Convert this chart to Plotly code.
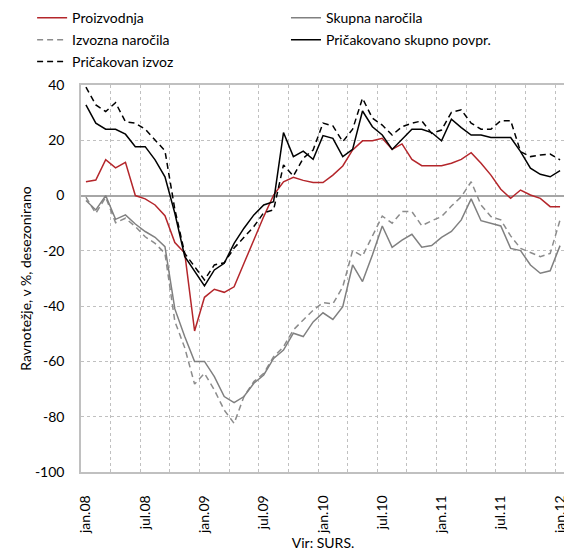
import plotly.graph_objects as go

months = list(range(49))
tick_idx = [0, 6, 12, 18, 24, 30, 36, 42, 48]
tick_labels = ["jan.08", "jul.08", "jan.09", "jul.09", "jan.10", "jul.10", "jan.11", "jul.11", "jan.12"]
y_ticks = [-100, -80, -60, -40, -20, 0, 20, 40]
y_tick_labels = ["-100", "-80", "-60", "-40", "-20", "0", "20", "40"]

proizvodnja = [5, 5.6, 13, 10, 12, 0, -1.2, -3.4, -7.3, -17, -20.8, -49,
               -36.8, -33.9, -35, -33, -24.5, -16, -7.6, 0.2, 5, 6.6, 5.5, 4.7,
               4.7, 7.4, 10.7, 16.5, 19.8, 19.8, 20.7, 16.7, 18.7, 13.1, 10.8, 10.8,
               10.8, 11.7, 13.1, 15.5, 11.7, 7.4, 2.3, -1, 2, 0.2, -1, -4, -4]
skupna = [-1.8, -5.2, 0, -8.6, -7, -10.3, -13, -15.1, -18.5, -41, -51, -60,
          -60, -65.5, -72.7, -74.9, -72.7, -67.9, -64.9, -58.9, -55.9, -49.8, -51, -45.7,
          -42.4, -44.8, -40.2, -25.1, -31.1, -21.5, -11, -18.7, -16.1, -14, -18.7, -18.1,
          -15.1, -13, -8.8, -1.2, -9.1, -10, -11, -19.1, -19.9, -25.1, -28.1, -27.2, -18.1]
izvozna = [-0.6, -6.4, -0.6, -9.8, -8.2, -11.2, -14.9, -17.3, -20.9, -45.5, -55, -68.2,
           -64.3, -70.3, -77.6, -82.4, -72.7, -67.3, -64.3, -58.3, -54.7, -48.6, -45, -41.5,
           -38.7, -39.2, -33, -19.9, -21.9, -14.6, -7.4, -10, -5.8, -5.8, -10.9, -9.1,
           -7.6, -3.8, -0.4, 5, -3.4, -7.6, -8.8, -14.6, -19.1, -20.6, -22.1, -20.9, -8.8]
pric_skupno = [32.8, 26.2, 24, 24, 22.2, 17.7, 17.7, 12.9, 6.8, -6.4, -22, -27.5,
               -32.7, -26.9, -24.5, -17.3, -11.8, -7, -3.4, -2.2, 22.8, 14.1, 16.1, 13.1,
               21.7, 20.7, 14.1, 16.7, 30.6, 24.9, 21.9, 16.7, 20.4, 24, 24, 22.8,
               19.8, 27.6, 24.6, 21.9, 21.9, 21, 21, 21, 15.9, 9.9, 7.7, 6.8, 9]
pric_izvoz = [39.2, 32.8, 30.4, 33.6, 26.7, 26.2, 24, 20.1, 16.2, -5, -20.9, -25.7,
              -30.5, -25.1, -24.3, -19, -14.9, -11.2, -6.2, -5.2, 11.1, 7.1, 13.5, 16.5,
              26.2, 25.2, 19.5, 24, 35.2, 28, 25.5, 21.9, 24.9, 26.2, 27, 22.5,
              23.7, 30.1, 31, 26.2, 24, 24, 27.1, 27.1, 15.9, 14.1, 14.7, 15, 12.9]

FONT = "Lato"
FS = 14
fig = go.Figure()
series = [
    ("Proizvodnja", proizvodnja, "#b4262b", "solid", "legend"),
    ("Izvozna naročila", izvozna, "#8c8c8c", "6px,4px", "legend"),
    ("Pričakovan izvoz", pric_izvoz, "#000000", "6px,4px", "legend"),
    ("Skupna naročila", skupna, "#808080", "solid", "legend2"),
    ("Pričakovano skupno povpr.", pric_skupno, "#000000", "solid", "legend2"),
]
for k, (name, vals, col, dash, leg) in enumerate(series):
    fig.add_trace(go.Scatter(x=months, y=vals, mode="lines", name=name, legend=leg,
                             legendgroup="g%d" % k,
                             line=dict(color=col, width=1.5, dash=dash)))

leg_common = dict(orientation="v", xanchor="left", yanchor="top", y=1.214,
                  tracegroupgap=0.7,
                  font=dict(family=FONT, size=FS), bgcolor="rgba(0,0,0,0)")

# page body has an 8px margin; figure is sized to fit the 572x556 window
fig.update_layout(
    width=564, height=548,
    margin=dict(l=73, r=7, t=77, b=84, autoexpand=False),
    plot_bgcolor="white", paper_bgcolor="white",
    font=dict(family=FONT, size=FS, color="#000000"),
    showlegend=True,
    legend=dict(x=-0.101, **leg_common),
    legend2=dict(x=0.4235, **leg_common),
    xaxis=dict(range=[-0.5, 48.5], tickmode="array", tickvals=tick_idx, ticktext=tick_labels,
               tickangle=-90, showgrid=False, zeroline=False,
               showline=True, linecolor="#c0c0c0", linewidth=1.5, mirror=True,
               ticks="", tickfont=dict(size=FS), ticklabelstandoff=16,
               minor=dict(tick0=2.5, dtick=3, showgrid=True, gridcolor="#c0c0c0",
                          griddash="dot", gridwidth=1, ticks=""),
               title=dict(text="Vir: SURS.", font=dict(size=FS), standoff=3)),
    yaxis=dict(range=[-100, 40], tickmode="array", tickvals=y_ticks, ticktext=y_tick_labels,
               showgrid=True, gridcolor="#c0c0c0", griddash="dot", gridwidth=1,
               zeroline=True, zerolinecolor="#a6a6a6", zerolinewidth=2,
               showline=True, linecolor="#c0c0c0", linewidth=1.5, mirror=True,
               ticks="", tickfont=dict(size=FS), ticklabelstandoff=12,
               title=dict(text="Ravnotežje, v %, desezonirano", font=dict(size=FS), standoff=0)),
)
fig.write_html("out.html")
